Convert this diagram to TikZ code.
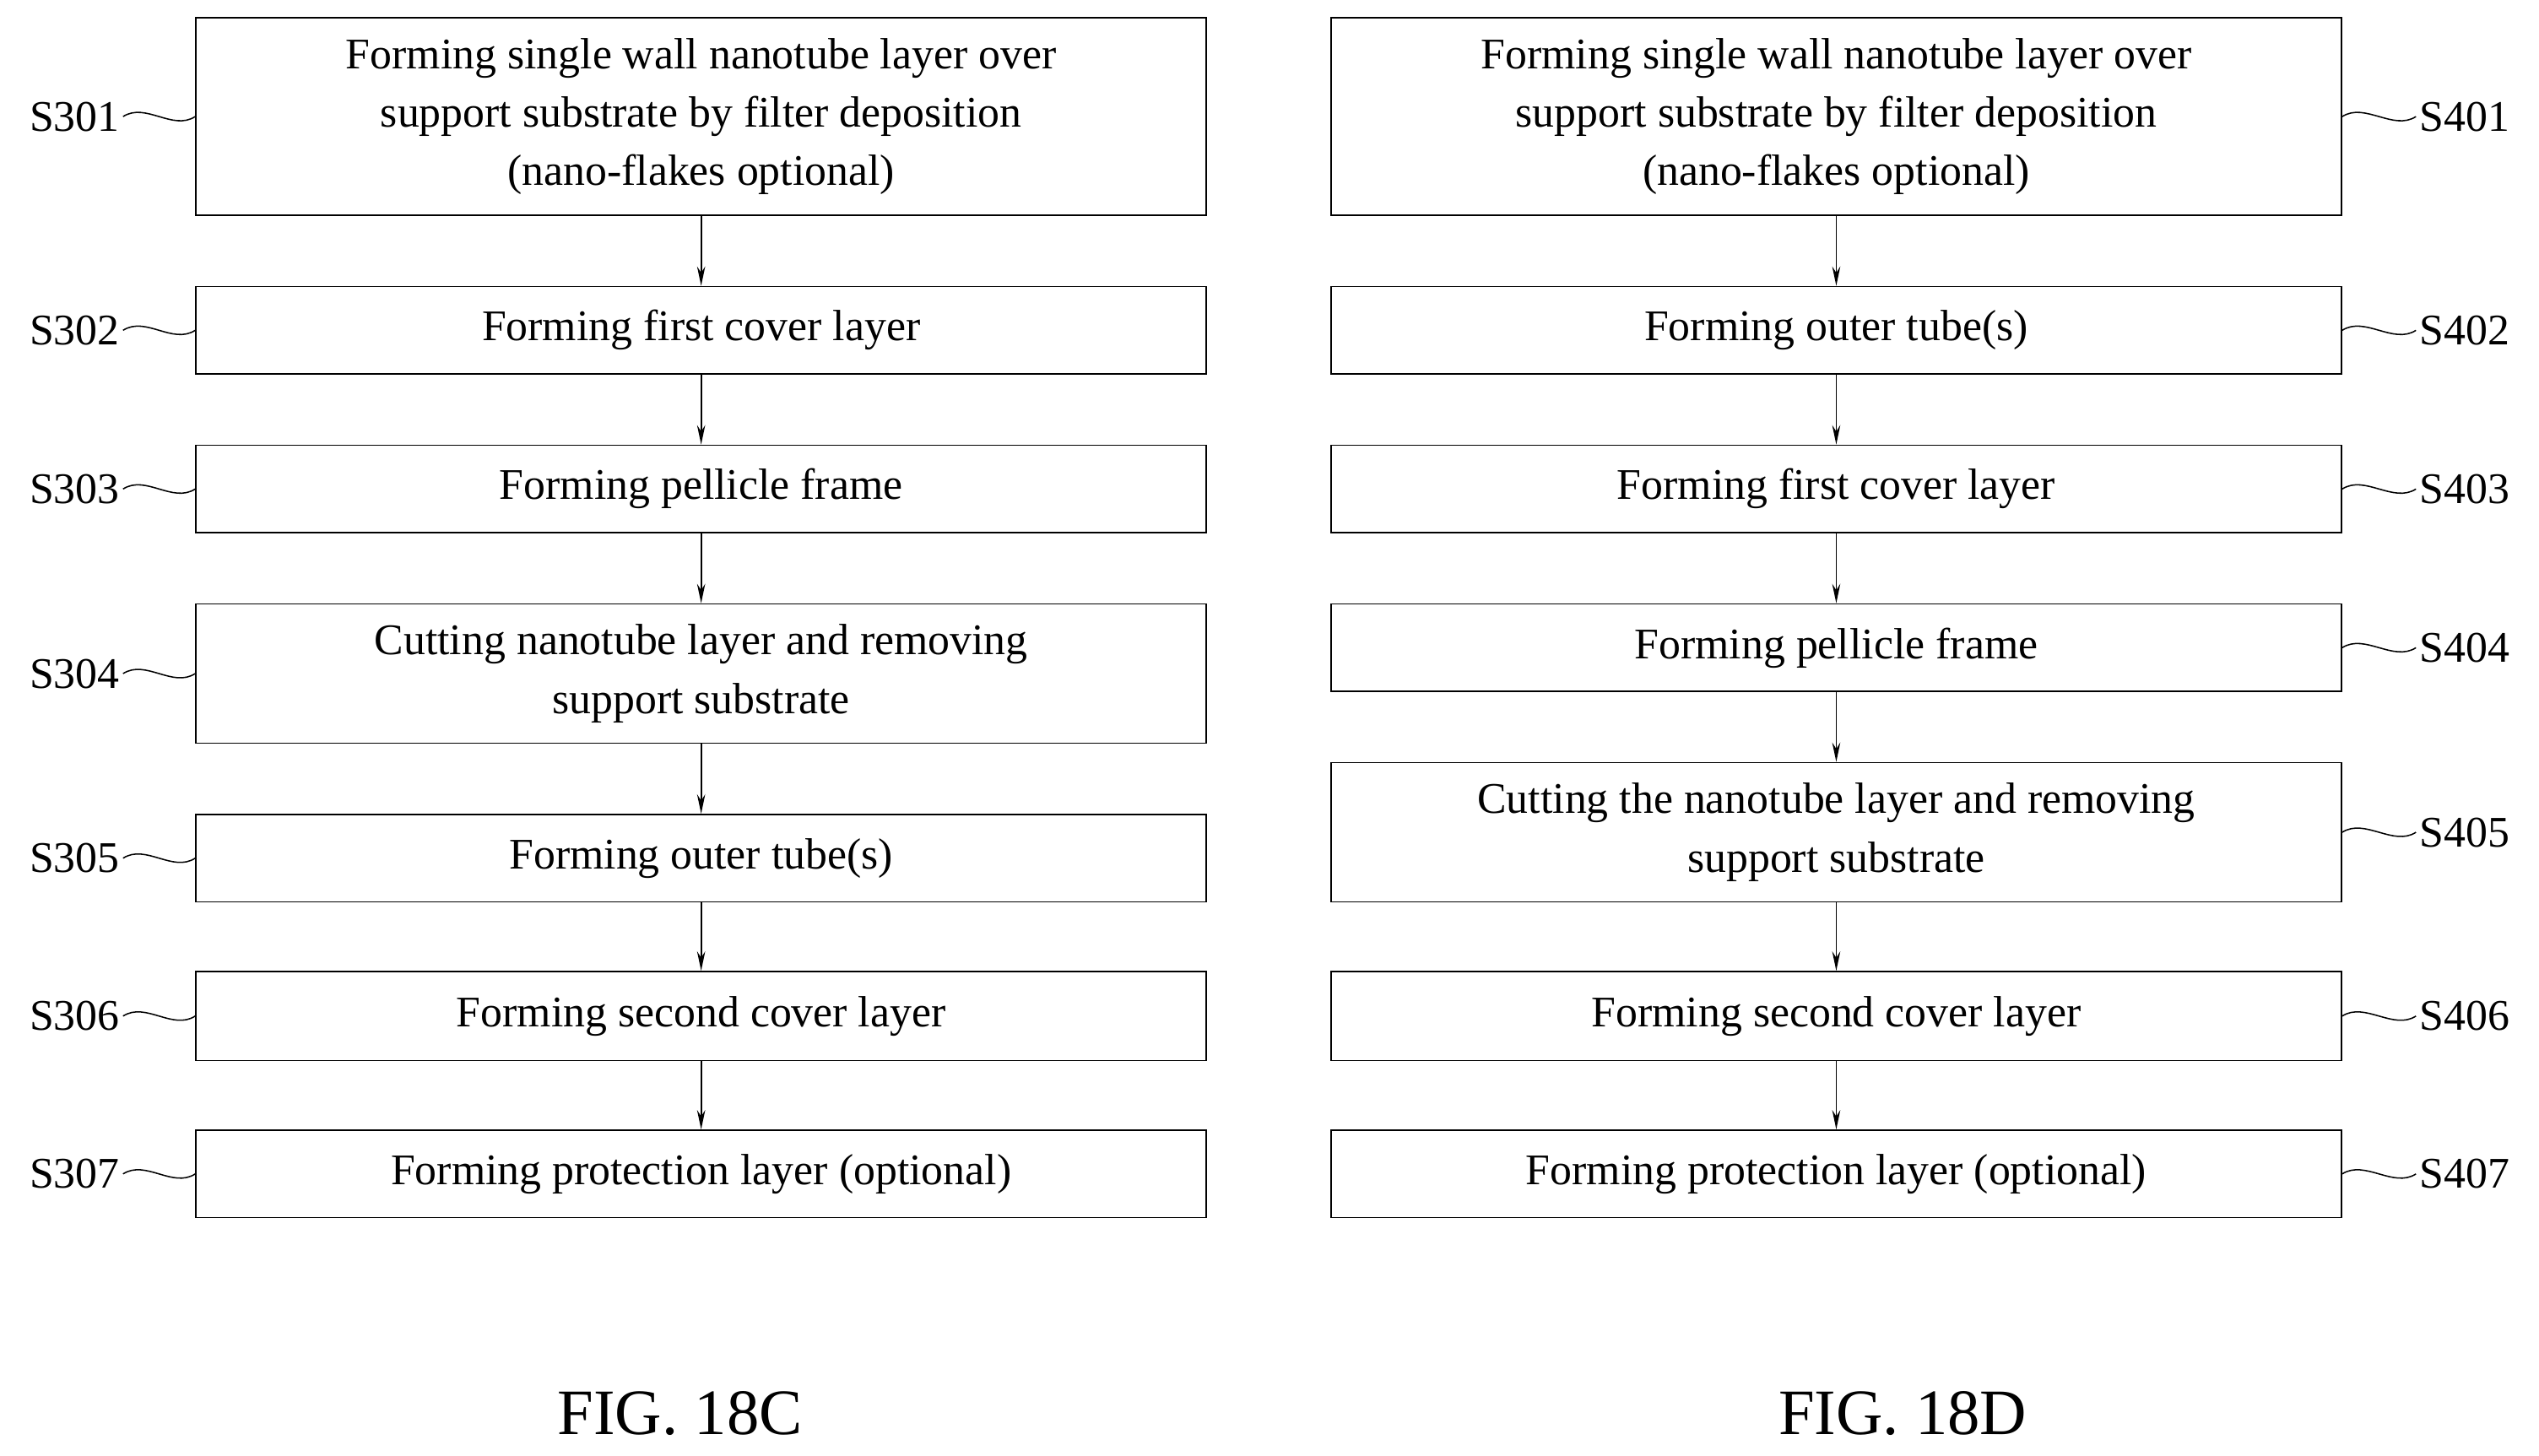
\documentclass[tikz,border=0pt]{standalone}
\usepackage{fontspec}
\setmainfont{Liberation Serif}
\usetikzlibrary{arrows.meta,calc}
\begin{document}
\begin{tikzpicture}[x=1pt,y=-1pt,
 box/.style={draw,line width=0.9pt,minimum width=624pt,inner sep=0pt,align=center,font=\fontsize{27}{36}\selectfont},
 lab/.style={font=\fontsize{27}{32}\selectfont,inner sep=2pt},
 arr/.style={line width=0.9pt,-{Stealth[length=12pt,width=5pt]}},
 sq/.style={line width=0.8pt}]
\useasboundingbox (0,0) rectangle (1568,899);
% left
\node[box,minimum height=122pt] (a1) at (433,72) {Forming single wall nanotube layer over\\support substrate by filter deposition\\(nano-flakes optional)};
\node[box,minimum height=54pt] (a2) at (433,204) {Forming first cover layer};
\node[box,minimum height=54pt] (a3) at (433,302) {Forming pellicle frame};
\node[box,minimum height=86pt] (a4) at (433,416) {Cutting nanotube layer and removing\\support substrate};
\node[box,minimum height=54pt] (a5) at (433,530) {Forming outer tube(s)};
\node[box,minimum height=55pt] (a6) at (433,627.5) {Forming second cover layer};
\node[box,minimum height=54pt] (a7) at (433,725) {Forming protection layer (optional)};
% right
\node[box,minimum height=122pt] (b1) at (1134,72) {Forming single wall nanotube layer over\\support substrate by filter deposition\\(nano-flakes optional)};
\node[box,minimum height=54pt] (b2) at (1134,204) {Forming outer tube(s)};
\node[box,minimum height=54pt] (b3) at (1134,302) {Forming first cover layer};
\node[box,minimum height=54pt] (b4) at (1134,400) {Forming pellicle frame};
\node[box,minimum height=86pt] (b5) at (1134,514) {Cutting the nanotube layer and removing\\support substrate};
\node[box,minimum height=55pt] (b6) at (1134,627.5) {Forming second cover layer};
\node[box,minimum height=54pt] (b7) at (1134,725) {Forming protection layer (optional)};
\foreach \i/\j in {1/2,2/3,3/4,4/5,5/6,6/7}{
 \draw[arr] (a\i.south) -- (a\j.north);
 \draw[arr] (b\i.south) -- (b\j.north);
}
% labels
\foreach \n/\y in {1/72,2/204,3/302,4/416,5/530,6/627.5,7/725}{
 \node[lab,anchor=east] (la\n) at (76,\y) {S30\n};
 \draw[sq] (la\n.east) .. controls +(14,-9) and +(-14,9) .. (a\n.west);
}
\foreach \n/\y in {1/72,2/204,3/302,4/400,5/514,6/627.5,7/725}{
 \node[lab,anchor=west] (lb\n) at (1492,\y) {S40\n};
 \draw[sq] (b\n.east) .. controls +(14,-9) and +(-14,9) .. (lb\n.west);
}
\node[font=\fontsize{40}{48}\selectfont] (f1) at (420,873) {FIG. 18C};
\node[font=\fontsize{40}{48}\selectfont] (f2) at (1175,873) {FIG. 18D};
\end{tikzpicture}
\end{document}
